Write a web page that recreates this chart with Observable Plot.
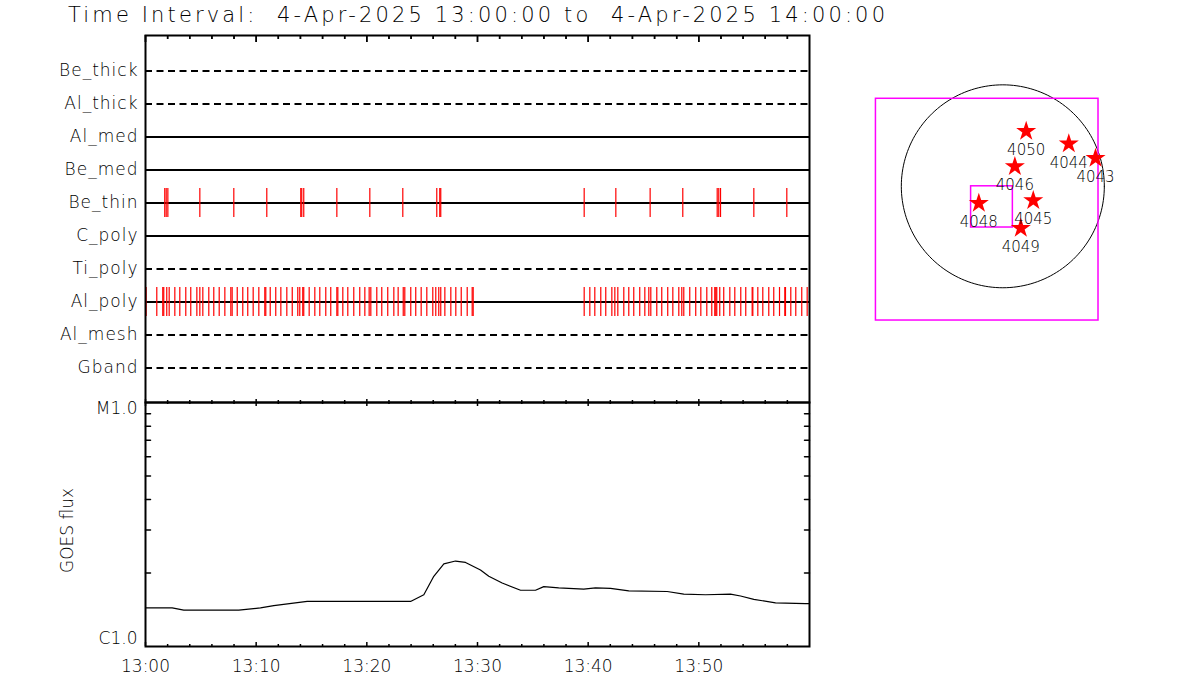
<!DOCTYPE html>
<html><head><meta charset="utf-8">
<script src="https://cdn.jsdelivr.net/npm/d3@7"></script>
<script src="https://cdn.jsdelivr.net/npm/@observablehq/plot@0.6"></script>
<style>
body{margin:0;background:#fff;}
#root{position:relative;width:1200px;height:700px;overflow:hidden;font-family:"DejaVu Sans",sans-serif;}
#root > *{position:absolute;}
#root text{font-weight:200;}
</style></head><body><div id="root"></div>
<script>
// ---------- data ----------
const titleText = "Time Interval:  4-Apr-2025 13:00:00 to  4-Apr-2025 14:00:00";
const filters = ["Be_thick","Al_thick","Al_med","Be_med","Be_thin","C_poly","Ti_poly","Al_poly","Al_mesh","Gband"];
const dashedFilters = ["Be_thick","Al_thick","Ti_poly","Al_mesh","Gband"];
const solidFilters = ["Al_med","Be_med","Be_thin","C_poly","Al_poly"];
// exposure times, minutes after 13:00 UT
const beThinMinutes = [1.74,1.87,2.02,4.91,7.98,10.96,14.03,14.12,14.30,17.29,20.27,23.25,26.32,26.59,26.68,
  39.64,42.50,45.60,48.55,51.66,51.80,51.96,54.97,57.95];
const alPolyMinutes = [0.06,1.02,1.56,1.65,1.92,2.14,2.65,3.10,3.64,4.09,4.64,4.91,5.18,5.72,6.17,6.66,7.17,7.71,7.83,
  8.29,8.79,9.24,9.73,10.24,10.78,10.87,11.27,11.77,12.23,12.77,13.26,13.76,13.94,14.21,14.30,14.79,15.30,15.75,
  16.29,16.74,17.29,17.38,17.83,18.28,18.82,19.36,19.82,20.21,20.36,20.90,21.35,21.89,22.44,22.83,23.29,23.43,
  23.97,24.42,24.91,25.42,25.96,26.23,26.50,26.68,27.05,27.59,28.04,28.53,29.07,29.52,29.61,
  39.64,40.15,40.60,41.14,41.59,42.14,42.41,42.68,43.22,43.67,44.12,44.66,45.12,45.48,45.66,46.20,46.65,47.19,
  47.65,48.19,48.46,48.64,49.18,49.72,50.18,50.72,51.17,51.44,51.53,51.62,51.89,52.25,52.80,53.25,53.79,54.24,
  54.82,54.88,55.33,55.78,56.32,56.77,57.29,57.77,57.83,58.31,58.76,59.30,59.79];
const goesMinutes = [0,2.41,3.46,8.43,10.39,11.59,14.61,17.62,22.44,23.95,25.15,26.05,26.96,28.01,28.92,30.27,31.02,
  32.23,33.89,35.24,35.99,37.34,39.60,40.66,42.02,43.67,47.14,48.64,50.60,52.86,53.77,54.97,56.93,59.64,60];
const goesFluxE6 = [1.44,1.44,1.41,1.41,1.44,1.47,1.53,1.53,1.53,1.53,1.63,1.94,2.18,2.24,2.21,2.06,1.94,
  1.82,1.70,1.70,1.76,1.74,1.72,1.74,1.73,1.69,1.68,1.64,1.63,1.64,1.61,1.56,1.51,1.50,1.50];
const goesTickValues = [1e-6, 1e-5];
const goesTickLabels = ["C1.0", "M1.0"];
const goesMinorTicks = [2,3,4,5,6,7,8,9].map(k => k * 1e-6);
// map (arcsec)
const solarRadius = 960;
const fovBoxes = [
  {x1: -1200, x2: 905, y1: -1270, y2: 828},
  {x1: -300, x2: 95, y1: -390, y2: 0}
];
const arNumbers = ["4050","4044","4043","4046","4045","4048","4049"];
const arX = [221, 624, 877, 114, 288, -227, 170];
const arY = [521, 402, 266, 187, -134, -160, -396];

// ---------- derived tables ----------
const t0 = Date.UTC(2025, 3, 4, 13, 0, 0);
const toDate = m => new Date(t0 + m * 60000);
const xDomain = [toDate(0), toDate(60)];
const majorTicks = d3.utcMinute.every(10).range(xDomain[0], xDomain[1]);
const minorTicks = d3.utcMinute.every(2).range(xDomain[0], xDomain[1]).filter(d => d.getUTCMinutes() % 10 !== 0);
const exposures = [
  ...beThinMinutes.map(m => ({time: toDate(m), filter: "Be_thin"})),
  ...alPolyMinutes.map(m => ({time: toDate(m), filter: "Al_poly"}))
];
const goes = goesMinutes.map((m, i) => ({time: toDate(m), flux: goesFluxE6[i] * 1e-6}));
const limb = d3.range(0, 361, 2).map(a => ({x: solarRadius * Math.cos(a * Math.PI / 180), y: solarRadius * Math.sin(a * Math.PI / 180)}));
const regions = arNumbers.map((n, i) => ({noaa: n, x: arX[i], y: arY[i]}));

const FONT = "DejaVu Sans";
const tickShape = {draw(ctx, l) { ctx.moveTo(0, 0); ctx.lineTo(0, -l); }};
const yTickVec = (data, frameAnchor, rotate, length) =>
  Plot.vector(data, {y: d => d, frameAnchor, rotate, length, anchor: "start", shape: tickShape, stroke: "black", strokeWidth: 1.5});
// inward x ticks drawn as short rules, inset from the opposite edge of the frame
const xTicks = (ticks, edge, size, innerHeight) =>
  Plot.ruleX(ticks, {x: d => d, stroke: "black", strokeWidth: 1.5,
    [edge === "top" ? "insetBottom" : "insetTop"]: innerHeight - size});
// thin strip plot holding one row of time ticks (tickX spans the strip's full height)
const tickStrip = (ticks, length, top) => {
  const p = Plot.plot({
    width: 820, height: length, marginTop: 0, marginBottom: 0, marginLeft: 145, marginRight: 11,
    style: {background: "transparent", overflow: "visible"},
    x: {type: "utc", domain: xDomain, axis: null},
    marks: [Plot.tickX(ticks, {x: d => d, stroke: "black", strokeWidth: 1.5})]
  });
  p.style.left = "0px"; p.style.top = top + "px";
  return p;
};

const root = document.getElementById("root");

// ---------- top panel: filter timeline ----------
const TOP_H = 410, TOP_MT = 35, TOP_MB = 8;
const topInner = TOP_H - TOP_MT - TOP_MB;
const topPlot = Plot.plot({
  width: 820, height: TOP_H, marginTop: TOP_MT, marginBottom: TOP_MB, marginLeft: 145, marginRight: 11,
  style: {background: "transparent", fontFamily: FONT, overflow: "visible"},
  x: {type: "utc", domain: xDomain, axis: null},
  y: {type: "band", domain: filters, paddingInner: 0.132, paddingOuter: 0.561},
  marks: [
    Plot.ruleY(solidFilters, {stroke: "black", strokeWidth: 2}),
    Plot.ruleY(dashedFilters, {stroke: "black", strokeWidth: 2, strokeDasharray: "7,4.5"}),
    Plot.tickX(exposures, {x: "time", y: "filter", stroke: "red", strokeWidth: 1.2}),
    Plot.axisY({tickSize: 0, tickPadding: 7, fontSize: 17, label: null}),
    xTicks(majorTicks, "top", 7, topInner),
    xTicks(minorTicks, "top", 4, topInner),
    Plot.frame({stroke: "black", strokeWidth: 2})
  ]
});
topPlot.style.left = "0px"; topPlot.style.top = "0px";
d3.select(topPlot).selectAll('g[aria-label="y-axis tick label"] text').attr("letter-spacing", "1");
root.appendChild(topPlot);

// ---------- bottom panel: GOES flux ----------
const G_H = 294, G_MT = 10, G_MB = 40;
const goesPlot = Plot.plot({
  width: 820, height: G_H, marginTop: G_MT, marginBottom: G_MB, marginLeft: 145, marginRight: 11,
  style: {background: "transparent", fontFamily: FONT, overflow: "visible"},
  x: {type: "utc", domain: xDomain},
  y: {type: "log", domain: [1e-6, 1e-5]},
  marks: [
    Plot.line(goes, {x: "time", y: "flux", stroke: "black", strokeWidth: 1.2}),
    yTickVec(goesMinorTicks, "left", 90, 5),
    yTickVec(goesMinorTicks, "right", -90, 5),
    Plot.axisX({ticks: majorTicks, anchor: "bottom", tickSize: 0, tickPadding: 13, tickFormat: d3.utcFormat("%H:%M"), fontSize: 17, label: null}),
    Plot.axisY({ticks: [goesTickValues[1]], tickSize: 0, tickPadding: 8, dy: 6, tickFormat: d => goesTickLabels[goesTickValues.indexOf(d)], fontSize: 17, label: null}),
    Plot.axisY({ticks: [goesTickValues[0]], tickSize: 0, tickPadding: 8, dy: -8, tickFormat: d => goesTickLabels[goesTickValues.indexOf(d)], fontSize: 17, label: null}),
    Plot.text(["GOES flux"], {frameAnchor: "left", textAnchor: "middle", rotate: -90, dx: -78, dy: 6, fontSize: 17}),
    Plot.frame({stroke: "black", strokeWidth: 2})
  ]
});
goesPlot.style.left = "0px"; goesPlot.style.top = "392px";
root.appendChild(goesPlot);

// ---------- solar map ----------
const mapPlot = Plot.plot({
  width: 260, height: 260, margin: 0,
  style: {background: "transparent", fontFamily: FONT, overflow: "visible"},
  x: {domain: [-1346, 1113], axis: null},
  y: {domain: [-1459, 1001], axis: null},
  marks: [
    Plot.line(limb, {x: "x", y: "y", stroke: "black", strokeWidth: 1}),
    Plot.rect(fovBoxes, {x1: "x1", x2: "x2", y1: "y1", y2: "y2", stroke: "#ff00ff", fill: "none", strokeWidth: 1.5}),
    Plot.dot(regions, {x: "x", y: "y", symbol: "star", fill: "#ff0000", stroke: "none", r: 6.3}),
    Plot.text(regions, {x: "x", y: "y", text: "noaa", dy: 19, fontSize: 15, fill: "black"})
  ]
});
mapPlot.style.left = "860px"; mapPlot.style.top = "80px";
root.appendChild(mapPlot);

// ---------- title ----------
const titleSvg = d3.create("svg").attr("width", 900).attr("height", 32);
titleSvg.style("left", "0px").style("top", "0px");
titleSvg.append("text").attr("x", 68).attr("y", 22).attr("textLength", 817).attr("lengthAdjust", "spacing")
  .style("white-space", "pre").attr("font-family", FONT).attr("font-size", 21).attr("fill", "black").text(titleText);
root.appendChild(titleSvg.node());

// ---------- inward time ticks on every panel edge ----------
root.appendChild(tickStrip(majorTicks, 7, 35));   // top panel, top edge
root.appendChild(tickStrip(minorTicks, 4, 35));
root.appendChild(tickStrip(majorTicks, 3, 399));  // top panel, bottom edge
root.appendChild(tickStrip(minorTicks, 2, 400));
root.appendChild(tickStrip(majorTicks, 4, 402));  // GOES panel, top edge
root.appendChild(tickStrip(minorTicks, 2, 402));
root.appendChild(tickStrip(majorTicks, 4, 642));  // GOES panel, bottom edge
root.appendChild(tickStrip(minorTicks, 2, 644));
</script></body></html>
